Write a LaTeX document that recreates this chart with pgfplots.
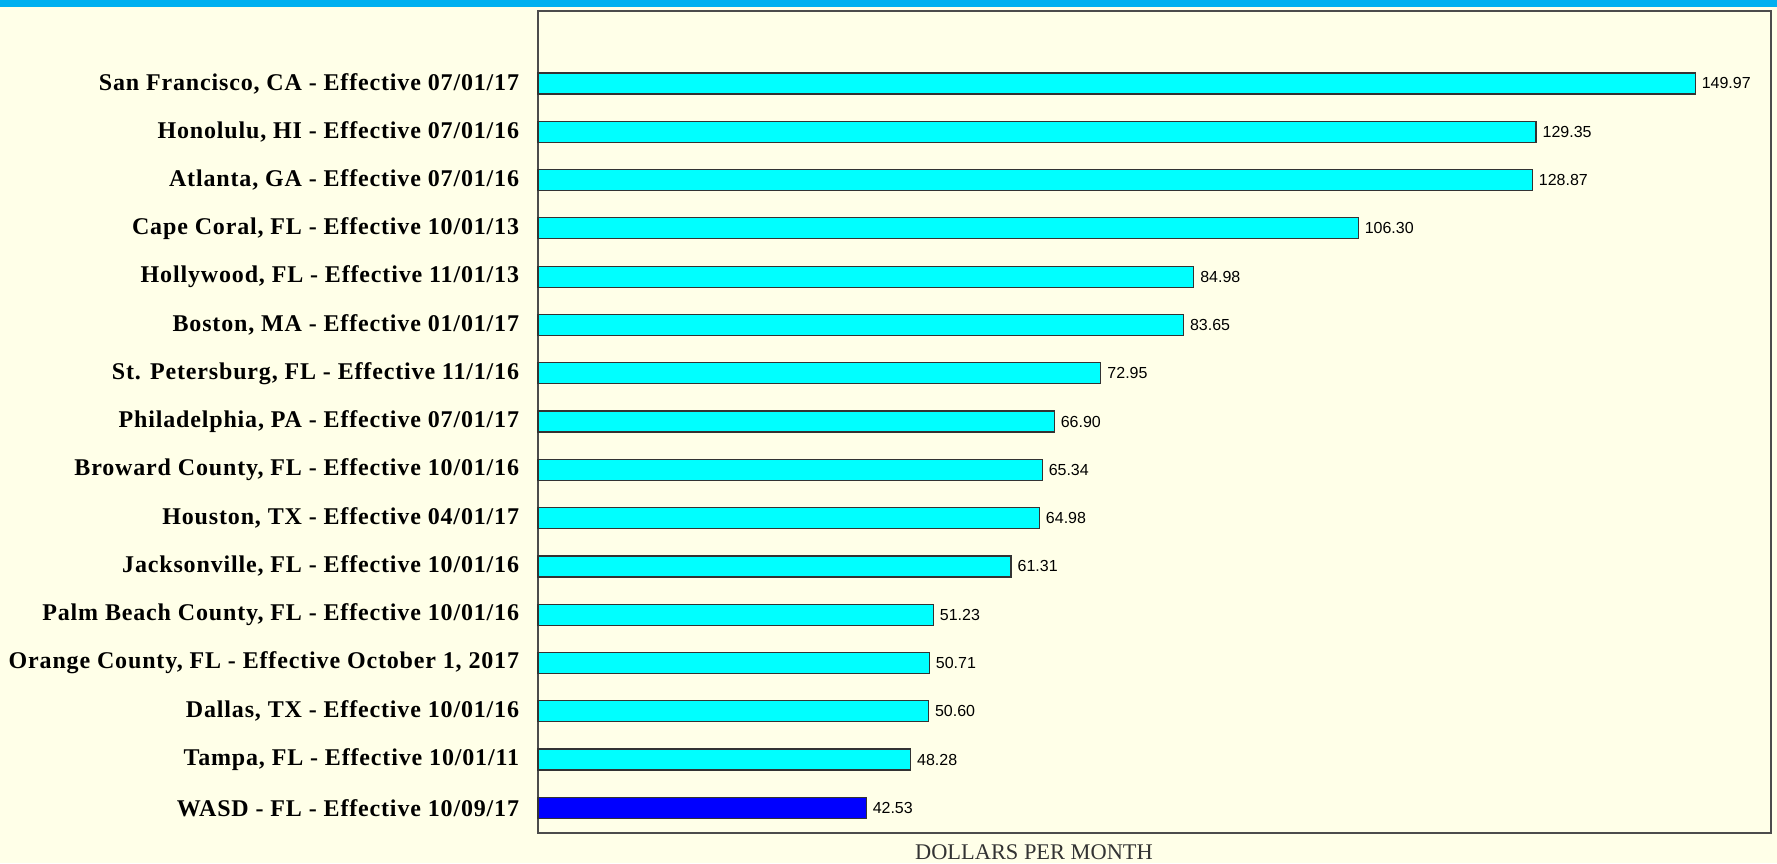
\documentclass[border=0pt]{standalone}
\usepackage{fontspec}
\setmainfont{Liberation Serif}
\newfontfamily\valfont{Liberation Sans}
\newfontfamily\labfont[LetterSpace=3.5]{Liberation Serif}
\usepackage{pgfplots}
\pgfplotsset{compat=1.18}
\definecolor{bgc}{RGB}{255,255,232}
\definecolor{strip}{RGB}{0,176,240}
\definecolor{barc}{RGB}{0,255,255}
\definecolor{wasd}{RGB}{0,0,255}
\begin{document}
\begin{tikzpicture}
\fill[bgc] (-269pt,-15pt) rectangle (619.5pt,416.5pt);
\fill[strip] (-269pt,413pt) rectangle (619.5pt,416.5pt);
\begin{axis}[
  at={(0pt,0pt)}, anchor=south west,
  scale only axis, width=616.5pt, height=411pt,
  xbar, bar width=10.5pt,
  xmin=0, xmax=159.8, ymin=-0.52, ymax=16.5,
  axis background/.style={fill=bgc},
  axis line style={draw=black!70, line width=1.1pt},
  xtick=\empty,
  ytick={0,...,15},
  ytick style={draw=none},
  yticklabels={{WASD - FL - Effective 10/09/17},{Tampa, FL - Effective 10/01/11},{Dallas, TX - Effective 10/01/16},{Orange County, FL - Effective October 1, 2017},{Palm Beach County, FL - Effective 10/01/16},{Jacksonville, FL - Effective 10/01/16},{Houston, TX - Effective 04/01/17},{Broward County, FL - Effective 10/01/16},{Philadelphia, PA - Effective 07/01/17},{St. Petersburg, FL - Effective 11/1/16},{Boston, MA - Effective 01/01/17},{Hollywood, FL - Effective 11/01/13},{Cape Coral, FL - Effective 10/01/13},{Atlanta, GA - Effective 07/01/16},{Honolulu, HI - Effective 07/01/16},{San Francisco, CA - Effective 07/01/17}},
  yticklabel style={font=\labfont\fontsize{12}{14}\selectfont\bfseries, anchor=east, inner sep=0pt, xshift=-5pt},
  point meta=explicit symbolic,
  nodes near coords,
  nodes near coords style={anchor=west, inner sep=0pt, xshift=3pt, font=\valfont\fontsize{8}{9}\selectfont, text=black},
  clip=false,
]
\addplot[fill=barc, draw=black!80, line width=0.6pt, bar shift=0pt] coordinates {
(48.28,1) [48.28]
(50.60,2) [50.60]
(50.71,3) [50.71]
(51.23,4) [51.23]
(61.31,5) [61.31]
(64.98,6) [64.98]
(65.34,7) [65.34]
(66.90,8) [66.90]
(72.95,9) [72.95]
(83.65,10) [83.65]
(84.98,11) [84.98]
(106.30,12) [106.30]
(128.87,13) [128.87]
(129.35,14) [129.35]
(149.97,15) [149.97]
};
\addplot[fill=wasd, draw=black!80, line width=0.6pt, bar shift=0pt] coordinates {
(42.53,0) [42.53]
};
\end{axis}
\node[font=\fontsize{11.2}{12}\selectfont, text=black!80] at (248pt,-9.5pt) {DOLLARS PER MONTH};
\pgfresetboundingbox
\path (-269pt,-15pt) rectangle (619.5pt,416.5pt);
\end{tikzpicture}
\end{document}
